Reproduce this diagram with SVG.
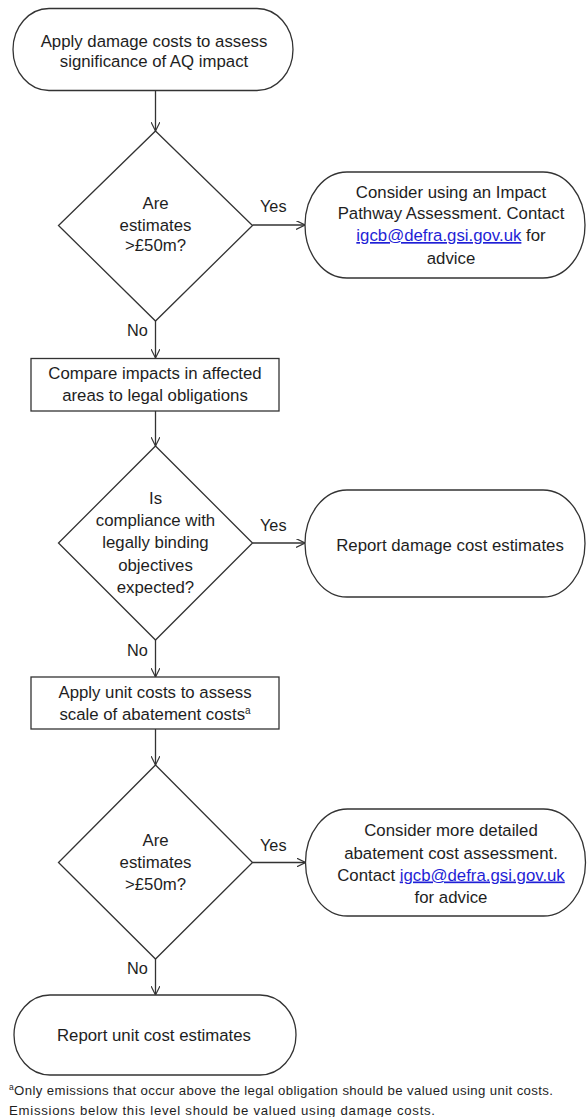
<svg xmlns="http://www.w3.org/2000/svg" width="588" height="1117" viewBox="0 0 588 1117">
<style>
.s{fill:#fff;stroke:#333;stroke-width:1.3}
.t{font-family:"Liberation Sans",Arial,sans-serif;font-size:16.8px;fill:#1e1e1e;text-anchor:middle}
.l{font-family:"Liberation Sans",Arial,sans-serif;font-size:16.3px;fill:#1e1e1e}
.lk{fill:#1f1fd6;text-decoration:underline}
.f{font-family:"Liberation Sans",Arial,sans-serif;font-size:13.2px;fill:#1e1e1e}
.c{stroke:#333;stroke-width:1.3;fill:none}
</style>
<defs>
<marker id="ah" viewBox="0 0 10 10" refX="10" refY="5" markerWidth="9" markerHeight="9" markerUnits="userSpaceOnUse" orient="auto">
<path d="M0,0 L10,5 L0,10" fill="none" stroke="#333" stroke-width="1.3"/>
</marker>
</defs>
<rect width="588" height="1117" fill="#fff"/>
<g id="connectors">
<line class="c" x1="155.5" y1="91" x2="155.5" y2="131" marker-end="url(#ah)"/>
<line class="c" x1="252.5" y1="225" x2="305" y2="225" marker-end="url(#ah)"/>
<line class="c" x1="155.5" y1="321" x2="155.5" y2="358" marker-end="url(#ah)"/>
<line class="c" x1="155.5" y1="411" x2="155.5" y2="446" marker-end="url(#ah)"/>
<line class="c" x1="252.5" y1="543" x2="305" y2="543" marker-end="url(#ah)"/>
<line class="c" x1="155.5" y1="640" x2="155.5" y2="677" marker-end="url(#ah)"/>
<line class="c" x1="155.5" y1="729" x2="155.5" y2="765" marker-end="url(#ah)"/>
<line class="c" x1="252.5" y1="862.5" x2="305.5" y2="862.5" marker-end="url(#ah)"/>
<line class="c" x1="155.5" y1="959" x2="155.5" y2="995" marker-end="url(#ah)"/>
<text class="l" x="260" y="212">Yes</text>
<text class="l" x="127" y="336">No</text>
<text class="l" x="260" y="530.5">Yes</text>
<text class="l" x="127" y="655.5">No</text>
<text class="l" x="260" y="850.5">Yes</text>
<text class="l" x="127" y="973.5">No</text>
</g>
<g id="start">
<rect class="s" x="13" y="8.5" width="280" height="82" rx="36" ry="41"/>
<text class="t" x="154" y="46.5">Apply damage costs to assess</text>
<text class="t" x="154" y="67">significance of AQ impact</text>
</g>
<g id="decision1">
<polygon class="s" points="155.5,131 252.5,225.5 155.5,321 58.5,225.5"/>
<text class="t" x="155.5" y="209">Are</text>
<text class="t" x="155.5" y="230.5">estimates</text>
<text class="t" x="155.5" y="251">&gt;£50m?</text>
</g>
<g id="impact-pathway">
<rect class="s" x="305" y="172" width="280" height="106" rx="42" ry="53"/>
<text class="t" x="451" y="197.5">Consider using an Impact</text>
<text class="t" x="451" y="219">Pathway Assessment. Contact</text>
<text class="t" x="451" y="241"><tspan class="lk">igcb@defra.gsi.gov.uk</tspan> for</text>
<text class="t" x="451" y="263.5">advice</text>
</g>
<g id="compare">
<rect class="s" x="31" y="358.5" width="248" height="52.5"/>
<text class="t" x="155" y="378.5">Compare impacts in affected</text>
<text class="t" x="155" y="401">areas to legal obligations</text>
</g>
<g id="decision2">
<polygon class="s" points="155.5,446 252.5,543 155.5,640 58.5,543"/>
<text class="t" x="155.5" y="503.5">Is</text>
<text class="t" x="155.5" y="525.5">compliance with</text>
<text class="t" x="155.5" y="548">legally binding</text>
<text class="t" x="155.5" y="571">objectives</text>
<text class="t" x="155.5" y="593">expected?</text>
</g>
<g id="report-damage">
<rect class="s" x="305" y="490" width="280" height="107" rx="42" ry="53.5"/>
<text class="t" x="450" y="550.5">Report damage cost estimates</text>
</g>
<g id="unit-costs">
<rect class="s" x="31" y="677" width="248" height="52"/>
<text class="t" x="155" y="697.5">Apply unit costs to assess</text>
<text class="t" x="155" y="720">scale of abatement costs<tspan font-size="10" dy="-6">a</tspan></text>
</g>
<g id="decision3">
<polygon class="s" points="155.5,765 252.5,862.5 155.5,959 58.5,862.5"/>
<text class="t" x="155.5" y="845.5">Are</text>
<text class="t" x="155.5" y="867.5">estimates</text>
<text class="t" x="155.5" y="890">&gt;£50m?</text>
</g>
<g id="abatement">
<rect class="s" x="305.5" y="809" width="280" height="107" rx="42" ry="53.5"/>
<text class="t" x="451" y="835.5">Consider more detailed</text>
<text class="t" x="451" y="858.5">abatement cost assessment.</text>
<text class="t" x="451" y="880.5">Contact <tspan class="lk">igcb@defra.gsi.gov.uk</tspan></text>
<text class="t" x="451" y="902.5">for advice</text>
</g>
<g id="report-unit">
<rect class="s" x="14" y="995" width="282" height="80" rx="36" ry="40"/>
<text class="t" x="154" y="1041">Report unit cost estimates</text>
</g>
<g id="footnote">
<text class="f" x="9" y="1094.5" textLength="544" lengthAdjust="spacing"><tspan font-size="8.5" dy="-4.5">a</tspan><tspan dy="4.5">Only emissions that occur above the legal obligation should be valued using unit costs.</tspan></text>
<text class="f" x="9" y="1114.5" textLength="426" lengthAdjust="spacing">Emissions below this level should be valued using damage costs.</text>
</g>
</svg>
